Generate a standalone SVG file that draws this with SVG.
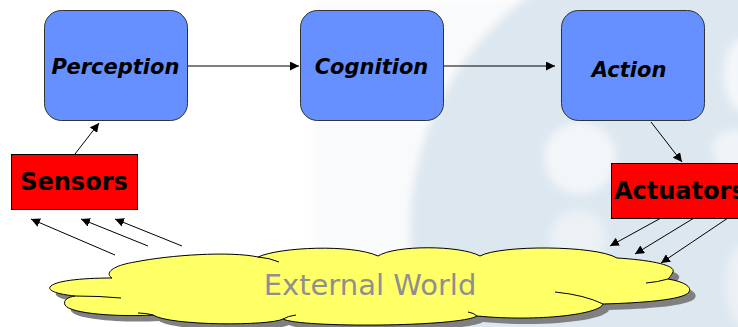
<svg xmlns="http://www.w3.org/2000/svg" xmlns:xlink="http://www.w3.org/1999/xlink" width="738" height="327" viewBox="0 0 738 327">
<style>
.blue{fill:#668fff;stroke:#333;stroke-width:1}
.red{fill:#ff0000;stroke:#000;stroke-width:1}
.lbl{font-family:"DejaVu Sans",Verdana,sans-serif;font-weight:bold;fill:#000}
.it{font-style:italic;font-size:21px}
.rd{font-size:24px}
.con{stroke:#000;stroke-width:1;fill:none;marker-end:url(#ah)}
.inner{stroke:#000;stroke-width:1;fill:none}
</style>
<defs>
<marker id="ah" viewBox="0 0 10 10" refX="10" refY="5" markerWidth="9" markerHeight="9" markerUnits="userSpaceOnUse" orient="auto">
<path d="M0,0 L10,5 L0,10 z" fill="#000"/>
</marker>
<filter id="blur" x="-10%" y="-10%" width="120%" height="120%"><feGaussianBlur stdDeviation="4"/></filter>
<path id="cloud" d="M112,278 C105,274 110,266 135,262 C170,255 230,251 258,257 C280,247 352,244 378,256 C395,245 460,245 480,256 C500,245 595,245 617,258 C650,260 676,265 673,272 C671,276 669,278 668,279 C685,282 692,287 689,292 C684,300 640,303 603,304 C600,314 540,322 477,316 C460,327 300,328 283,319 C270,326 170,326 153,315 C120,317 70,314 65,305 C63,300 68,297 75,296 C55,294 48,290 50,287 C54,281 80,278 112,278 Z"/>
</defs>
<rect width="738" height="327" fill="#ffffff"/>
<g id="watermark" filter="url(#blur)">
<rect x="314" y="0" width="430" height="327" fill="#f9fafb"/>
<circle cx="700" cy="230" r="290" fill="#dde7f0"/>
<circle cx="580" cy="158" r="36" fill="#f2f6f9"/>
<circle cx="578" cy="238" r="28" fill="#ecf1f6"/>
<ellipse cx="742" cy="75" rx="18" ry="36" fill="#f4f7fa"/>
<ellipse cx="736" cy="150" rx="24" ry="20" fill="#f0f4f8"/>
<ellipse cx="742" cy="285" rx="16" ry="40" fill="#ecf1f6"/>
</g>
<g id="world">
<use xlink:href="#cloud" transform="translate(6,6)" fill="#808080"/>
<use xlink:href="#cloud" fill="#ffff66" stroke="#000" stroke-width="1"/>
<path class="inner" d="M258,257 Q270,258 279,262"/>
<path class="inner" d="M668,279 Q658,282 646,283"/>
<path class="inner" d="M603,304 Q585,295 555,292"/>
<path class="inner" d="M477,316 Q474,313 468,312"/>
<path class="inner" d="M283,319 Q288,316 296,315"/>
<path class="inner" d="M153,315 Q146,313 138,313"/>
<path class="inner" d="M75,296 Q100,296 121,298"/>
<text x="370" y="295" text-anchor="middle" font-family="DejaVu Sans,Verdana,sans-serif" font-size="29" fill="#8f8f8f">External World</text>
</g>
<g id="connectors">
<line class="con" x1="187" y1="66" x2="299" y2="66"/>
<line class="con" x1="443" y1="66" x2="555" y2="66"/>
<line class="con" x1="75" y1="154" x2="99" y2="123"/>
<line class="con" x1="651" y1="122" x2="682" y2="162"/>
<line class="con" x1="115" y1="255" x2="31" y2="219"/>
<line class="con" x1="148" y1="246" x2="81" y2="219"/>
<line class="con" x1="182" y1="246" x2="115" y2="219"/>
<line class="con" x1="661" y1="218" x2="610" y2="246"/>
<line class="con" x1="694" y1="218" x2="635" y2="254"/>
<line class="con" x1="728" y1="218" x2="661" y2="263"/>
</g>
<g id="perception">
<rect class="blue" x="44.5" y="10.5" width="143" height="110" rx="17"/>
<text class="lbl it" x="115.5" y="74" text-anchor="middle">Perception</text>
</g>
<g id="cognition">
<rect class="blue" x="300.5" y="10.5" width="143" height="110" rx="17"/>
<text class="lbl it" x="371.5" y="74" text-anchor="middle">Cognition</text>
</g>
<g id="action">
<rect class="blue" x="561.5" y="10.5" width="143" height="110" rx="17"/>
<text class="lbl it" x="629" y="77" text-anchor="middle">Action</text>
</g>
<g id="sensors">
<rect class="red" x="11.5" y="154.5" width="126" height="55"/>
<text class="lbl rd" x="74" y="190" text-anchor="middle">Sensors</text>
</g>
<g id="actuators">
<rect class="red" x="611.5" y="163.5" width="140" height="55"/>
<text class="lbl rd" x="614" y="199">Actuators</text>
</g>
</svg>
